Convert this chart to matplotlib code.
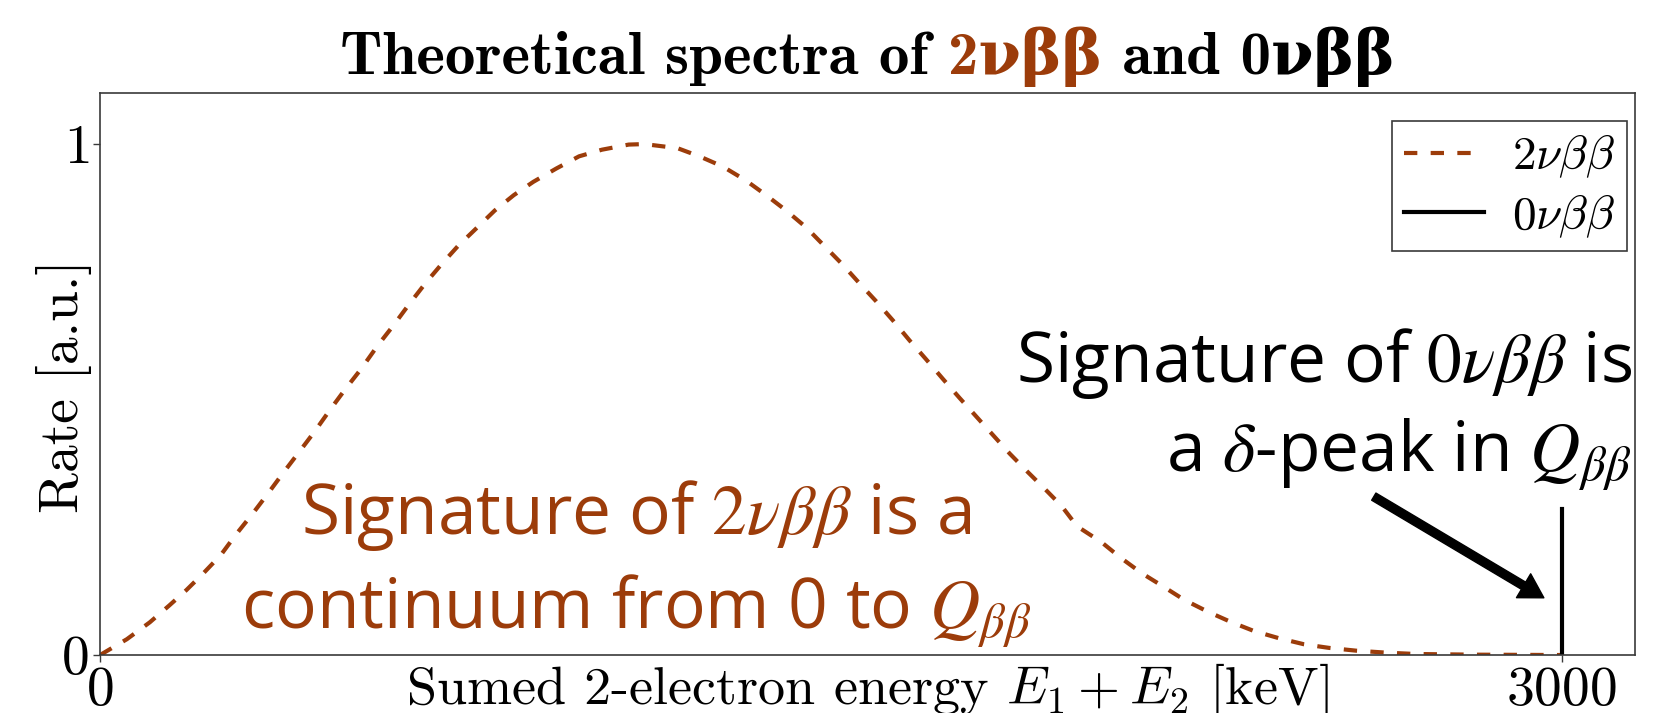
import matplotlib.pyplot as plt
from matplotlib.offsetbox import AnchoredOffsetbox, HPacker, TextArea

plt.rcParams['font.family'] = 'cmr10'
plt.rcParams['mathtext.fontset'] = 'cm'
plt.rcParams['axes.formatter.use_mathtext'] = True
plt.rcParams['axes.unicode_minus'] = False

BROWN = '#9c3c0a'
DARK = '#3a3a3a'

# 2nu-beta-beta continuum: summed energy [keV] vs normalised rate
energy_2nu = [0, 55, 102, 142, 177, 212, 248, 279, 315, 346, 377, 409, 440,
              472, 503, 535, 570, 602, 633, 668, 700, 735, 771, 810, 849,
              889, 936, 983, 1030, 1085, 1117, 1185, 1230, 1278, 1325, 1367,
              1408, 1449, 1486, 1524, 1558, 1593, 1627, 1661, 1695, 1730,
              1764, 1798, 1832, 1867, 1904, 1939, 1973, 2005, 2055, 2095,
              2138, 2182, 2225, 2273, 2320, 2368, 2419, 2471, 2522, 2578,
              2641, 2701, 2823, 3000]
rate_2nu = [0.0, 0.031, 0.064, 0.097, 0.127, 0.160, 0.196, 0.236, 0.279,
            0.318, 0.358, 0.398, 0.437, 0.480, 0.520, 0.559, 0.606, 0.645,
            0.685, 0.728, 0.764, 0.801, 0.834, 0.870, 0.900, 0.926, 0.952,
            0.976, 0.989, 0.999, 1.0, 0.992, 0.976, 0.956, 0.929, 0.900,
            0.870, 0.837, 0.801, 0.764, 0.728, 0.692, 0.655, 0.616, 0.579,
            0.540, 0.503, 0.467, 0.431, 0.394, 0.358, 0.325, 0.292, 0.252,
            0.221, 0.190, 0.160, 0.134, 0.108, 0.085, 0.065, 0.047, 0.033,
            0.021, 0.014, 0.0085, 0.0046, 0.002, 0.0007, 0.0]

# 0nu-beta-beta delta peak at the Q-value
q_value = 3000
peak_0nu = 0.285

x_ticks = [0, 3000]
y_ticks = [0, 1]

fig = plt.figure(figsize=(16.54, 7.13), dpi=100)
ax = fig.add_axes([0.0605, 0.0813, 0.928, 0.7883])

ax.plot(energy_2nu, rate_2nu, color=BROWN, lw=3.0,
        linestyle=(0, (3.2, 3.2)), label=r'$2\nu\beta\beta$')
ax.plot([q_value, q_value], [0, peak_0nu], color='black', lw=3.0,
        label=r'$0\nu\beta\beta$')

ax.set_xlim(0, 3150)
ax.set_ylim(0, 1.1)
ax.set_xticks(x_ticks)
ax.set_yticks(y_ticks)
ax.tick_params(axis='both', direction='out', length=5, width=1,
               color=DARK, labelsize=40)
ax.tick_params(axis='x', pad=3)
ax.tick_params(axis='y', pad=3)
for sp in ax.spines.values():
    sp.set_color(DARK)
    sp.set_linewidth(1.2)

ax.set_xlabel(r'Sumed 2-electron energy $E_1 + E_2$ [keV]', fontsize=39)
ax.xaxis.set_label_coords(0.5, -0.01)
ax.set_ylabel('Rate [a.u.]', fontsize=40)
ax.yaxis.set_label_coords(-0.005, 0.479)

leg = ax.legend(loc='upper right', bbox_to_anchor=(0.995, 0.95),
                fontsize=34, fancybox=False, framealpha=1,
                edgecolor=DARK, handlelength=1.7, handletextpad=0.6,
                labelspacing=0.25, borderpad=0.25, borderaxespad=0)
leg.get_frame().set_linewidth(1.2)

# title with the 2nu part coloured like its curve
title_font = dict(family=['cmb10', 'DejaVu Serif'], weight='bold', size=44)
parts = [TextArea('Theoretical spectra of ', textprops=dict(color='black', **title_font)),
         TextArea('2νββ', textprops=dict(color=BROWN, **title_font)),
         TextArea(' and 0νββ', textprops=dict(color='black', **title_font))]
title_box = AnchoredOffsetbox(loc='lower center',
                              child=HPacker(children=parts, pad=0, sep=0),
                              bbox_to_anchor=(0.5, 1.0),
                              bbox_transform=ax.transAxes,
                              frameon=False, pad=0, borderpad=0.45)
ax.add_artist(title_box)

ax.text(1100, 0.178,
        'Signature of $2\\nu\\beta\\beta$ is a\n'
        'continuum from 0 to $Q_{\\beta\\beta}$',
        family='Open Sans', fontsize=50, color=BROWN, ha='center',
        va='center', multialignment='center', math_fontfamily='stix',
        linespacing=1.36)

ax.text(3144, 0.48,
        'Signature of $0\\nu\\beta\\beta$ is\n'
        'a $\\delta$-peak in $Q_{\\beta\\beta}$',
        family='Open Sans', fontsize=50, color='black', ha='right',
        va='center', multialignment='right', math_fontfamily='stix',
        linespacing=1.28)

ax.annotate('', xy=(2963, 0.112), xytext=(2614, 0.31),
            arrowprops=dict(facecolor='black', edgecolor='black', width=6,
                            headwidth=20, headlength=17, shrink=0))

fig.savefig('out.png', dpi=100)
